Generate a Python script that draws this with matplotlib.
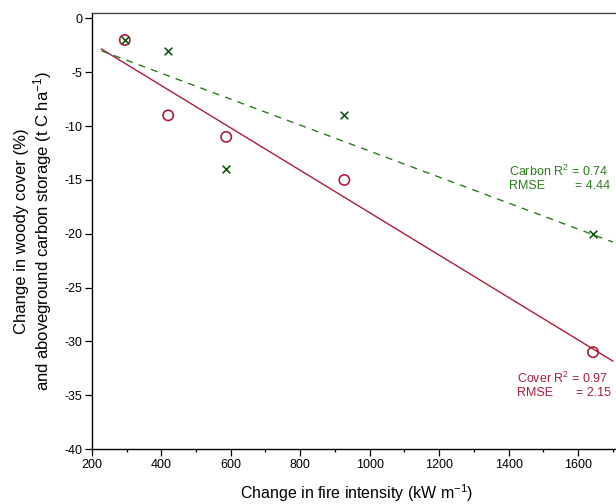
import numpy as np
import matplotlib
matplotlib.use("Agg")
import matplotlib.pyplot as plt

# fire intensity change (kW m-1) at each site
fire_x = [295, 420, 587, 927, 1643]
# change in woody cover (%)
cover_y = [-2, -9, -11, -15, -31]
# change in aboveground carbon storage (t C ha-1)
carbon_y = [-2, -3, -14, -9, -20]

x_ticks = [200, 400, 600, 800, 1000, 1200, 1400, 1600]
y_ticks = [0, -5, -10, -15, -20, -25, -30, -35, -40]

RED = "#b01c3c"
GREEN = "#2c7a1e"

plt.rcParams["font.family"] = ["Liberation Sans", "DejaVu Sans"]
plt.rcParams["mathtext.fontset"] = "custom"
plt.rcParams["mathtext.rm"] = "Liberation Sans"
plt.rcParams["mathtext.it"] = "Liberation Sans:italic"
plt.rcParams["axes.unicode_minus"] = False

fig = plt.figure(figsize=(6.16, 5.04), dpi=100)
ax = fig.add_axes([0.149, 0.109, 0.86, 0.865])

# linear fits over the plotted range
xfit = np.array([228, 1700])
pc = np.polyfit(fire_x, cover_y, 1)
pk = np.polyfit(fire_x, carbon_y, 1)
ax.plot(xfit, np.polyval(pc, xfit), color=RED, lw=1.0)
ax.plot(xfit, np.polyval(pk, xfit), color=GREEN, lw=1.0, ls=(0, (5, 4.5)))

ax.scatter(fire_x, cover_y, s=55, facecolors="none", edgecolors=RED, linewidths=1.2, zorder=3)
ax.scatter(fire_x, carbon_y, s=30, marker="x", color="#0a5a0a", linewidths=1.2, zorder=4)

fs = 9
ax.text(1400, -14.2, "Carbon R$^2$ = 0.74", color=GREEN, fontsize=fs, ha="left", va="center")
ax.text(1400, -15.6, "RMSE", color=GREEN, fontsize=fs, ha="left", va="center")
ax.text(1693, -15.6, "= 4.44", color=GREEN, fontsize=fs, ha="right", va="center")
ax.text(1423, -33.4, "Cover R$^2$ = 0.97", color=RED, fontsize=fs, ha="left", va="center")
ax.text(1423, -34.8, "RMSE", color=RED, fontsize=fs, ha="left", va="center")
ax.text(1696, -34.8, "= 2.15", color=RED, fontsize=fs, ha="right", va="center")

ax.set_xlim(200, 1725)
ax.set_ylim(-40, 0.5)
ax.set_xticks(x_ticks)
ax.set_xticks(range(300, 1800, 200), minor=True)
ax.set_yticks(y_ticks)
ax.tick_params(axis="both", labelsize=9, length=5, width=0.9, pad=2)
ax.tick_params(axis="x", which="minor", length=2.5, width=0.9)

for side in ["left", "bottom"]:
    ax.spines[side].set_linewidth(1.0)
ax.spines["top"].set_linewidth(1.0)
ax.spines["top"].set_color("#444444")
ax.spines["right"].set_visible(False)

ax.set_xlabel("Change in fire intensity (kW m$^{-1}$)", fontsize=11.5)
ax.xaxis.set_label_coords(0.5, -0.077)
ax.set_ylabel("Change in woody cover (%)\nand aboveground carbon storage (t C ha$^{-1}$)",
              fontsize=12, linespacing=1.1)
ax.yaxis.set_label_coords(-0.072, 0.5)

fig.savefig("out.png", dpi=100)
